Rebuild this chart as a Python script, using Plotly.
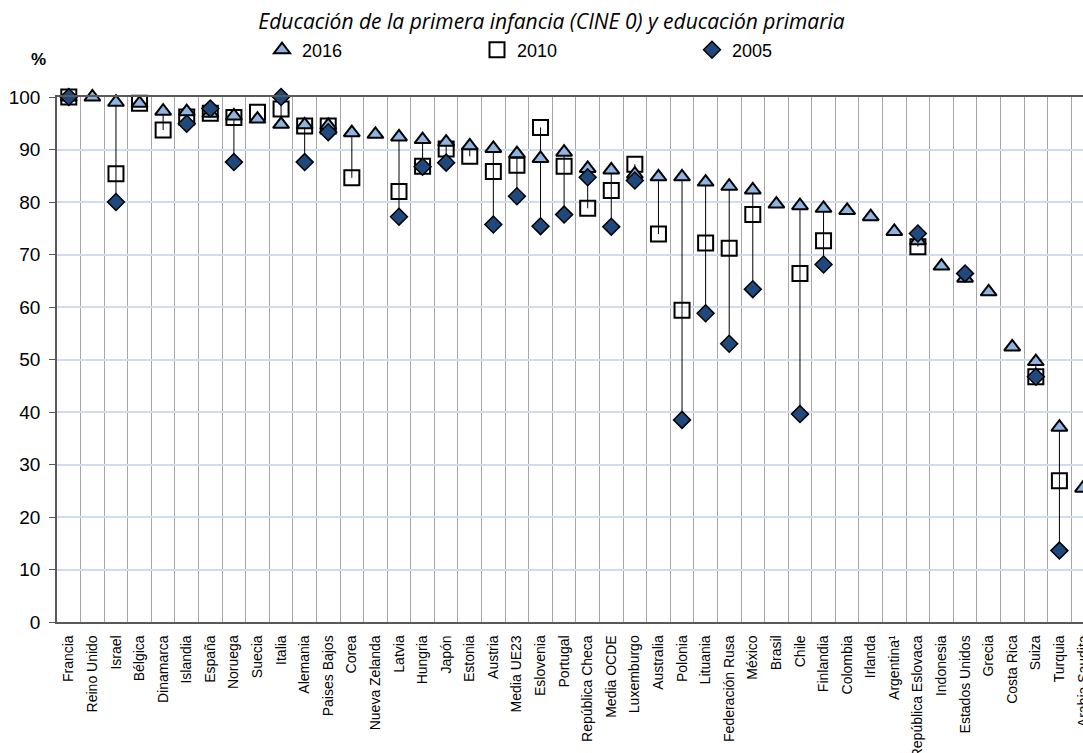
import plotly.graph_objects as go

categories = ["Francia", "Reino Unido", "Israel", "Bélgica", "Dinamarca", "Islandia", "España",
              "Noruega", "Suecia", "Italia", "Alemania", "Paises Bajos", "Corea", "Nueva Zelanda",
              "Latvia", "Hungria", "Japón", "Estonia", "Austria", "Media UE23", "Eslovenia",
              "Portugal", "República Checa", "Media OCDE", "Luxemburgo", "Australia", "Polonia",
              "Lituania", "Federación Rusa", "México", "Brasil", "Chile", "Finlandia", "Colombia",
              "Irlanda", "Argentina¹", "República Eslovaca", "Indonesia", "Estados Unidos", "Grecia",
              "Costa Rica", "Suiza", "Turquia", "Arabia Saudita"]

v2016 = [100, 100, 99.0, 98.8, 97.3, 97.2, 96.9, 96.4, 95.8, 94.8, 94.7, 94.6, 93.2, 92.9,
         92.4, 91.9, 91.4, 90.7, 90.2, 89.2, 88.3, 89.5, 86.4, 86.1, 85.3, 84.8, 84.8,
         83.8, 83.0, 82.3, 79.6, 79.3, 78.8, 78.4, 77.2, 74.4, 72.6, 67.8, 65.5, 62.9,
         52.4, 49.6, 37.1, 25.5]

v2010 = [100, None, 85.4, 98.8, 93.7, 96.2, 96.9, 96.1, 97.1, 97.7, 94.5, 94.5, 84.6, None,
         82.0, 86.8, 90.1, 88.7, 85.8, 87.0, 94.2, 86.8, 78.8, 82.2, 87.2, 73.9, 59.4,
         72.2, 71.2, 77.6, None, 66.4, 72.6, None, None, None, 71.5, None, None, None,
         None, 46.7, 26.9, None]

v2005 = [100, None, 80.0, None, None, 94.9, 97.8, 87.6, None, 100, 87.6, 93.3, None, None,
         77.2, 86.7, 87.5, None, 75.7, 81.1, 75.4, 77.6, 84.7, 75.3, 84.1, None, 38.5,
         58.8, 53.0, 63.4, None, 39.6, 68.1, None, None, None, 74.0, None, 66.4, None,
         None, 46.7, 13.6, None]

y_ticks = [0, 10, 20, 30, 40, 50, 60, 70, 80, 90, 100]

title_text = "Educación de la primera infancia (CINE 0) y educación primaria"

# hi-low lines
lx, ly = [], []
for c, a, b, d in zip(categories, v2016, v2010, v2005):
    vals = [v for v in (a, b, d) if v is not None]
    if len(vals) > 1:
        lx += [c, c, None]
        ly += [min(vals), max(vals), None]

fig = go.Figure()
fig.add_trace(go.Scatter(x=lx, y=ly, mode="lines", line=dict(color="black", width=1),
                         showlegend=False, hoverinfo="skip", cliponaxis=False))
fig.add_trace(go.Scatter(x=categories, y=v2010, mode="markers", name="2010", legendrank=2,
                         marker=dict(symbol="square", size=15, color="rgba(255,255,255,0)",
                                     line=dict(color="black", width=2)), cliponaxis=False))
fig.add_trace(go.Scatter(x=categories, y=v2016, mode="markers", name="2016", legendrank=1,
                         marker=dict(symbol="triangle-up", size=14, color="#8DB4E2",
                                     line=dict(color="black", width=2)), cliponaxis=False))
fig.add_trace(go.Scatter(x=categories, y=v2005, mode="markers", name="2005", legendrank=3,
                         marker=dict(symbol="diamond", size=13, color="#1F497D",
                                     line=dict(color="black", width=1.5)), cliponaxis=False))

W, H = 1083, 753
L, R, T, B = 57, 1083, 97, 622
fig.update_layout(
    width=W, height=H,
    margin=dict(l=L, r=W - R, t=T, b=H - B, autoexpand=False),
    paper_bgcolor="white", plot_bgcolor="white",
    font=dict(family="Liberation Sans, Arial, sans-serif", color="black"),
    title=dict(text=title_text, x=551.5 / W, xref="container", xanchor="center",
               y=1 - 22 / H, yref="container", yanchor="middle", automargin=False,
               font=dict(family="Open Sans", size=21, style="italic", color="black")),
    legend=dict(orientation="h", xref="container", yref="container",
                x=262 / W, xanchor="left", y=1 - 50 / H, yanchor="middle",
                font=dict(size=18), entrywidth=170, entrywidthmode="pixels",
                traceorder="normal", bgcolor="rgba(0,0,0,0)"),
    showlegend=True,
    xaxis=dict(type="category", categoryorder="array", categoryarray=categories,
               range=[-0.5, len(categories) - 1],
               tickson="boundaries", showgrid=True, gridcolor="#A6A6A6", gridwidth=1,
               showline=True, linecolor="#595959", linewidth=1.5, mirror=True,
               ticks="", tickangle=-90, tickfont=dict(size=14), ticklabelstandoff=6,
               automargin=False, fixedrange=True),
    yaxis=dict(range=[0, 100], tickvals=y_ticks, showgrid=True, gridcolor="#D0DCF0",
               gridwidth=1.5, showline=True, linecolor="#595959", linewidth=1.5,
               ticks="outside", ticklen=6, tickcolor="#595959", tickfont=dict(size=19),
               ticklabelstandoff=5, zeroline=False, automargin=False, fixedrange=True),
    annotations=[dict(text="<b>%</b>", xref="paper", yref="paper",
                      x=(38 - L) / (R - L), y=(B - 60) / (B - T),
                      xanchor="center", yanchor="middle",
                      showarrow=False, font=dict(size=17, color="black"))],
)

fig.write_html("out.html", config={"displayModeBar": False},
               post_script="document.body.style.margin='0';")
